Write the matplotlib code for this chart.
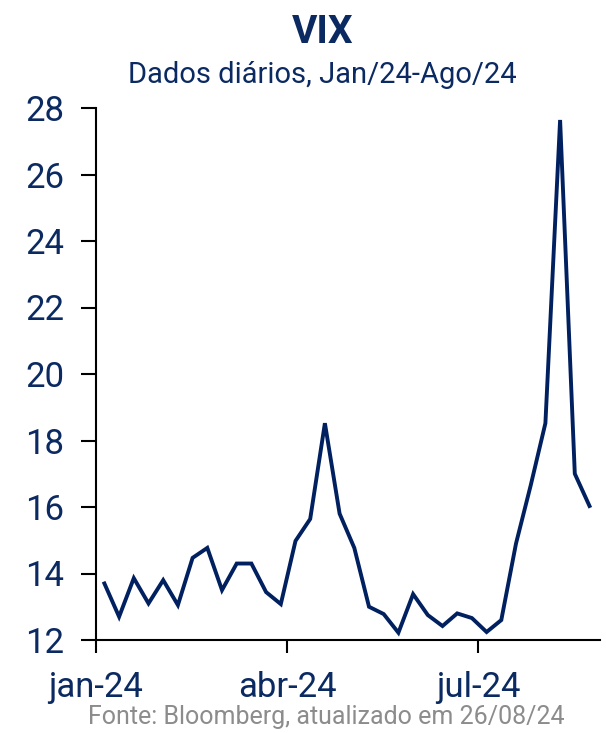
import numpy as np
import pandas as pd
import matplotlib
matplotlib.use("Agg")
import matplotlib.pyplot as plt
import matplotlib.dates as mdates

# weekly points (Fridays)
dates = pd.date_range("2024-01-05", "2024-08-23", freq="7D")
vix = [13.70, 12.70, 13.86, 13.10, 13.80, 13.05, 14.47, 14.77, 13.50, 14.30,
       14.30, 13.44, 13.08, 14.98, 15.64, 18.52, 15.80, 14.77, 13.00, 12.78,
       12.22, 13.38, 12.75, 12.42, 12.80, 12.66, 12.24, 12.60, 14.90, 16.65,
       18.52, 27.64, 17.00, 16.03]
yticks = [12, 14, 16, 18, 20, 22, 24, 26, 28]
xticks = ["2024-01-01", "2024-04-01", "2024-07-01"]
xticklabels = ["jan-24", "abr-24", "jul-24"]

navy = "#0b2a62"
plt.rcParams["font.family"] = ["Roboto", "DejaVu Sans"]

fig = plt.figure(figsize=(6.06, 7.33), dpi=100)
ax = fig.add_axes([96 / 606, 1 - 640 / 733, 504 / 606, 532 / 733])

ax.plot(dates, vix, color="#002060", lw=2.8, solid_joinstyle="miter")

ax.set_ylim(12, 28)
ax.set_yticks(yticks)
ax.set_xlim(pd.Timestamp("2024-01-01"), pd.Timestamp("2024-08-28"))
ax.set_xticks(pd.to_datetime(xticks))
ax.set_xticklabels(xticklabels)

for s in ["top", "right"]:
    ax.spines[s].set_visible(False)
for s in ["left", "bottom"]:
    ax.spines[s].set_linewidth(1.5)
    ax.spines[s].set_color("black")
ax.tick_params(axis="y", length=11, width=1.5, pad=12, labelsize=25, labelcolor=navy)
ax.tick_params(axis="x", length=9, width=1.5, pad=13, labelsize=25, labelcolor=navy)

fig.text(0.532, 0.955, "VIX", ha="center", va="center", fontsize=28,
         fontweight="bold", color=navy)
fig.text(0.532, 0.897, "Dados diários, Jan/24-Ago/24", ha="center", va="center",
         fontsize=21, color=navy)
fig.text(0.538, 0.022, "Fonte: Bloomberg, atualizado em 26/08/24", ha="center",
         va="center", fontsize=18, color="#8c8c8c")

fig.savefig("out.png", dpi=100)
